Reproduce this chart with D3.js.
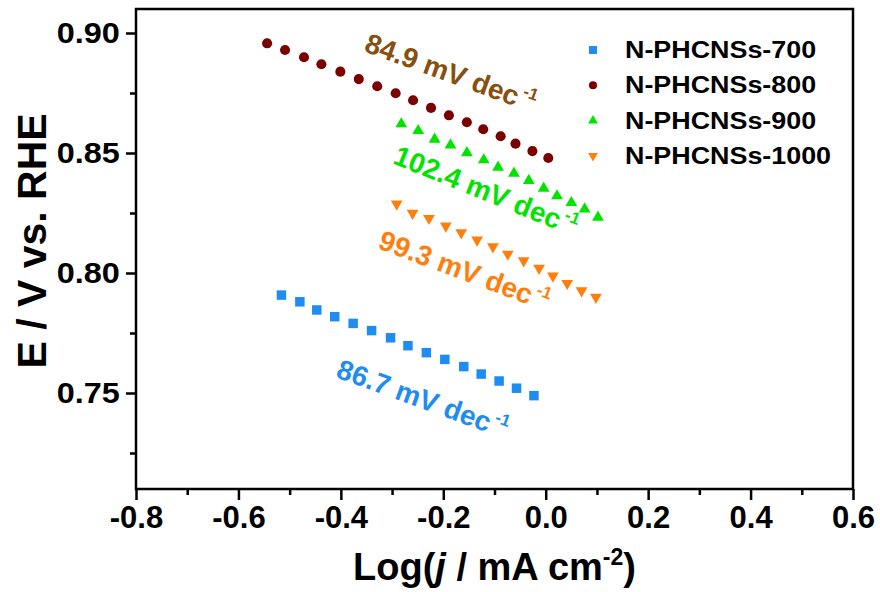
<!DOCTYPE html>
<html>
<head>
<meta charset="utf-8">
<script src="https://cdn.jsdelivr.net/npm/d3@7"></script>
<style>
  body { margin: 0; background: #fff; }
  text { font-family: "Liberation Sans", Arial, sans-serif; font-weight: bold; }
</style>
</head>
<body>
<svg id="chart" width="880" height="592"></svg>
<script>
// Tafel data
const x700 = [-0.516, -0.480, -0.447, -0.412, -0.376, -0.340, -0.303, -0.269, -0.233, -0.197, -0.160, -0.126, -0.091, -0.057, -0.023];
const y700 = [0.7908, 0.7880, 0.7846, 0.7818, 0.7790, 0.7760, 0.7730, 0.7697, 0.7668, 0.7640, 0.7610, 0.7579, 0.7550, 0.7520, 0.7489];

const x800 = [-0.544, -0.509, -0.472, -0.438, -0.401, -0.365, -0.329, -0.293, -0.259, -0.224, -0.189, -0.154, -0.122, -0.088, -0.059, -0.026, 0.005];
const y800 = [0.8957, 0.8929, 0.8899, 0.8870, 0.8839, 0.8808, 0.8778, 0.8749, 0.8720, 0.8688, 0.8657, 0.8628, 0.8599, 0.8570, 0.8539, 0.8508, 0.8479];

const x900 = [-0.282, -0.249, -0.217, -0.186, -0.154, -0.121, -0.093, -0.062, -0.033, -0.004, 0.022, 0.050, 0.076, 0.102];
const y900 = [0.8621, 0.8593, 0.8557, 0.8533, 0.8501, 0.8471, 0.8440, 0.8415, 0.8385, 0.8353, 0.8321, 0.8293, 0.8266, 0.8232];

const x1000 = [-0.291, -0.260, -0.228, -0.195, -0.165, -0.134, -0.103, -0.074, -0.043, -0.013, 0.014, 0.042, 0.070, 0.098];
const y1000 = [0.8288, 0.8249, 0.8228, 0.8196, 0.8168, 0.8138, 0.8110, 0.8079, 0.8051, 0.8020, 0.7988, 0.7957, 0.7926, 0.7899];

const seriesNames = ["N-PHCNSs-700", "N-PHCNSs-800", "N-PHCNSs-900", "N-PHCNSs-1000"];
const slopeLabels = ["86.7", "84.9", "102.4", "99.3"];

const xTicks = [-0.8, -0.6, -0.4, -0.2, 0.0, 0.2, 0.4, 0.6];
const xMinor = [-0.7, -0.5, -0.3, -0.1, 0.1, 0.3, 0.5];
const yTicks = [0.75, 0.80, 0.85, 0.90];
const yMinor = [0.725, 0.775, 0.825, 0.875];

const svg = d3.select("#chart");
const plotL = 136, plotR = 853, plotT = 9, plotB = 489;

const x = d3.scaleLinear().domain([-0.8, 0.6]).range([plotL, plotR]);
const y = d3.scaleLinear().domain([0.71, 0.91]).range([plotB, plotT]);

const series = [
  { name: seriesNames[0], xs: x700, ys: y700, color: "#1e8cf0", shape: d3.symbolSquare, size: 90, legSize: 64, rot: 0 },
  { name: seriesNames[1], xs: x800, ys: y800, color: "#7b0000", shape: d3.symbolCircle, size: 80, legSize: 52, rot: 0 },
  { name: seriesNames[2], xs: x900, ys: y900, color: "#00e400", shape: d3.symbolTriangle, size: 60, legSize: 42, rot: 0 },
  { name: seriesNames[3], xs: x1000, ys: y1000, color: "#ff7f0e", shape: d3.symbolTriangle, size: 60, legSize: 42, rot: 180 }
];

// axes (plain hyphen for negatives, like the original)
svg.append("g")
  .attr("transform", `translate(0,${plotB})`)
  .call(d3.axisBottom(x).tickValues(xTicks).tickSize(11).tickPadding(6).tickFormat(d => d.toFixed(1)))
  .call(g => g.select(".domain").remove())
  .selectAll("text")
  .attr("fill", "#000")
  .style("font-size", "31px");

svg.append("g")
  .attr("transform", `translate(0,${plotB})`)
  .call(d3.axisBottom(x).tickValues(xMinor).tickSize(6).tickFormat(""))
  .call(g => g.select(".domain").remove());

svg.append("g")
  .attr("transform", `translate(${plotL},0)`)
  .call(d3.axisLeft(y).tickValues(yTicks).tickSize(10).tickPadding(5).tickFormat(d3.format(".2f")))
  .call(g => g.select(".domain").remove())
  .selectAll("text")
  .attr("fill", "#000")
  .style("font-size", "30px")
  .attr("transform", "scale(1.08,1)");

svg.append("g")
  .attr("transform", `translate(${plotL},0)`)
  .call(d3.axisLeft(y).tickValues(yMinor).tickSize(6).tickFormat(""))
  .call(g => g.select(".domain").remove());

svg.selectAll(".tick line").attr("stroke", "#000").attr("stroke-width", 2.5);

svg.append("rect")
  .attr("x", plotL)
  .attr("y", plotT)
  .attr("width", plotR - plotL)
  .attr("height", plotB - plotT)
  .attr("fill", "none")
  .attr("stroke", "#000")
  .attr("stroke-width", 2.5);

// points
series.forEach(s => {
  const sym = d3.symbol().type(s.shape).size(s.size);
  svg.append("g")
    .selectAll("path")
    .data(s.xs.map((v, i) => [v, s.ys[i]]))
    .join("path")
    .attr("d", sym)
    .attr("transform", d => `translate(${x(d[0])},${y(d[1])}) rotate(${s.rot})`)
    .attr("fill", s.color);
});

// slope annotations
const notes = [
  { text: slopeLabels[1], color: "#87500f", at: [-0.357, 0.8925], angle: 20 },
  { text: slopeLabels[2], color: "#00e400", at: [-0.3005, 0.8458], angle: 22 },
  { text: slopeLabels[3], color: "#ff7f0e", at: [-0.3298, 0.8104], angle: 20.5 },
  { text: slopeLabels[0], color: "#1e8cf0", at: [-0.4117, 0.7567], angle: 20 }
];
notes.forEach(n => {
  const t = svg.append("text")
    .attr("transform", `translate(${x(n.at[0])},${y(n.at[1])}) rotate(${n.angle})`)
    .attr("fill", n.color)
    .style("font-size", "28px");
  t.append("tspan").text(n.text + " mV dec");
  t.append("tspan").attr("dx", 3).attr("dy", -12).style("font-size", "17px").text("-1");
});

// legend
const legend = svg.append("g").attr("transform", "translate(593,50)");
series.forEach((s, i) => {
  const row = legend.append("g").attr("transform", `translate(0,${i * 35.3})`);
  row.append("path")
    .attr("d", d3.symbol().type(s.shape).size(s.legSize))
    .attr("transform", `rotate(${s.rot})`)
    .attr("fill", s.color);
  row.append("text")
    .attr("transform", "translate(32,8) scale(1.12,1)")
    .style("font-size", "24px")
    .text(s.name);
});

// axis titles
svg.append("text")
  .attr("transform", `translate(46,${(plotT + plotB) / 2 - 8}) rotate(-90)`)
  .attr("text-anchor", "middle")
  .style("font-size", "41px")
  .text("E / V vs. RHE");

const xt = svg.append("text")
  .attr("x", (plotL + plotR) / 2)
  .attr("y", 580)
  .attr("text-anchor", "middle")
  .style("font-size", "38px");
xt.append("tspan").text("Log(");
xt.append("tspan").style("font-style", "italic").text("j");
xt.append("tspan").text(" / mA cm");
xt.append("tspan").attr("dy", -15).style("font-size", "23px").text("-2");
xt.append("tspan").attr("dy", 15).text(")");
</script>
</body>
</html>
